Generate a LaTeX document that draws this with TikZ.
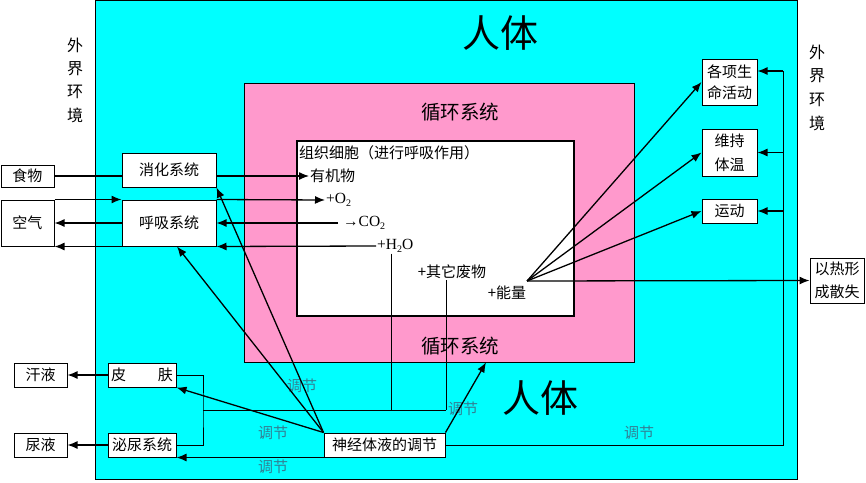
\documentclass[tikz,border=0pt]{standalone}
\usepackage{fontspec}
\setmainfont{Liberation Serif}
\newfontfamily\cjk{Noto Sans CJK SC}
\usetikzlibrary{arrows.meta,calc}
\definecolor{cyanbg}{RGB}{0,255,255}
\definecolor{pinkbg}{RGB}{255,153,204}
\definecolor{tiaojie}{RGB}{50,128,148}
\newcommand{\mysub}[1]{\raisebox{-0.35ex}{\fontsize{10}{10}\selectfont #1}}
\begin{document}
\begin{tikzpicture}[x=1pt,y=-1pt,
  box/.style={draw=black,line width=1pt,fill=white,inner sep=0pt,align=center,font=\cjk\fontsize{15}{18}\selectfont},
  lbl/.style={inner sep=1pt,font=\cjk\fontsize{15}{18}\selectfont},
  ltx/.style={inner sep=1pt,font=\fontsize{15.5}{18}\selectfont},
  tj/.style={inner sep=0pt,text=tiaojie,font=\cjk\fontsize{15}{18}\selectfont},
  conn/.style={line width=1.3pt,draw=black},
  thin/.style={line width=1pt,draw=black},
  arr/.style={conn,-{Latex[length=10pt,width=8pt]}},
]
\useasboundingbox (0,0) rectangle (866,482);
\fill[white] (0,0) rectangle (866,482);

% regions
\node[draw=black,line width=1pt,fill=cyanbg,minimum width=702pt,minimum height=479pt,inner sep=0pt] (body) at (446,240) {};
\node[draw=black,line width=0.8pt,fill=pinkbg,minimum width=390pt,minimum height=279pt,inner sep=0pt] (circ) at (439,222.5) {};
\node[draw=black,line width=1.5pt,fill=white,minimum width=277pt,minimum height=175pt,inner sep=0pt] (cell) at (435.5,228.5) {};

% titles
\node[inner sep=0pt,font=\cjk\fontsize{38}{40}\selectfont] (rt1) at (500,33) {人体};
\node[inner sep=0pt,font=\cjk\fontsize{38}{40}\selectfont] (rt2) at (540,398) {人体};
\node[inner sep=0pt,font=\cjk\fontsize{19.5}{20}\selectfont] (xh1) at (460,112) {循环系统};
\node[inner sep=0pt,font=\cjk\fontsize{19.5}{20}\selectfont] (xh2) at (460,346) {循环系统};
\node[inner sep=0pt,align=center,font=\cjk\fontsize{16}{23.3}\selectfont] (wj1) at (75,80) {外\\界\\环\\境};
\node[inner sep=0pt,align=center,font=\cjk\fontsize{16}{23.7}\selectfont] (wj2) at (817,87.5) {外\\界\\环\\境};

% boxes
\node[box,minimum width=53pt,minimum height=22pt] (food) at (27.5,176) {食物};
\node[box,minimum width=53pt,minimum height=46pt] (air) at (27.5,223) {空气};
\node[box,minimum width=94pt,minimum height=34pt] (dig) at (169,170) {消化系统};
\node[box,minimum width=94pt,minimum height=46pt] (resp) at (169,223) {呼吸系统};
\node[box,minimum width=53pt,minimum height=24pt] (sweat) at (40.5,375) {汗液};
\node[box,minimum width=53pt,minimum height=24pt] (urine) at (40.5,445) {尿液};
\node[box,minimum width=68pt,minimum height=24pt] (skin) at (142,375) {\makebox[62pt]{皮\hfill 肤}};
\node[box,minimum width=68pt,minimum height=24pt] (uri) at (142,445) {泌尿系统};
\node[box,minimum width=121pt,minimum height=24pt] (neuro) at (384.5,445) {神经体液的调节};
\node[box,minimum width=55pt,minimum height=46pt,font=\cjk\fontsize{15}{21}\selectfont] (act) at (729.5,82) {各项生\\命活动};
\node[box,minimum width=55pt,minimum height=47pt,font=\cjk\fontsize{15}{24}\selectfont] (temp) at (729.5,152.5) {维持\\体温};
\node[box,minimum width=55pt,minimum height=24pt] (move) at (729.5,211) {运动};
\node[box,minimum width=54pt,minimum height=45pt,font=\cjk\fontsize{15}{23}\selectfont] (heat) at (837,280.5) {以热形\\成散失};

% texts in the cell
\node[lbl,anchor=west] (t0) at (298,153) {组织细胞（进行呼吸作用）};
\node[lbl,anchor=west] (t1) at (309,176) {有机物};
\node[ltx,anchor=west] (t2) at (325,200) {+O\mysub{2}};
\node[ltx,anchor=west] (t3) at (342,223) {→CO\mysub{2}};
\node[ltx,anchor=west] (t4) at (376,246) {+H\mysub{2}O};
\node[lbl] (t5) at (452,272) {+其它废物};
\node[lbl] (t6) at (507,293) {+能量};

% regulation labels
\node[tj] (l1) at (302,386) {调节};
\node[tj] (l2) at (273,433) {调节};
\node[tj] (l3) at (273,467) {调节};
\node[tj] (l4) at (463,409) {调节};
\node[tj] (l5) at (639,433) {调节};

% coordinates
\coordinate (jx) at (203,410);
\coordinate (j1) at (391,410);
\coordinate (j2) at (446,410);
\coordinate (rt) at (783,71);
\coordinate (en) at (527,281);

% exchange lines
\draw[conn] (food.east) -- (dig.west |- food.east);
\draw[arr] (dig.east |- food.east) -- (t1.west);
\draw[arr] (air.north east) -- (resp.north west);
\draw[arr] (resp.north east) -- (t2.west);
\draw[arr] ([xshift=-4pt]t3.west) -- (resp.east |- t3.west);
\draw[arr] (resp.west) -- (air.east);
\draw[arr] (t4.west) -- (resp.south east);
\draw[arr] (resp.south west) -- (air.south east);
\draw[arr] (skin.west) -- (sweat.east);
\draw[arr] (uri.west) -- (urine.east);

% waste lines
\draw[thin] (skin.east) -| (jx) |- (uri.east);
\draw[thin] (jx) -- (j2);
\draw[thin] (j1 |- t4.south) -- (j1);
\draw[thin] (j2 |- t5.south) -- (j2);

% regulation arrows
\draw[arr] (neuro.north west) -- (skin.south east);
\draw[arr] (neuro.north west) -- ([xshift=8pt]resp.south);
\draw[arr] (neuro.north west) -- (dig.south east);
\draw[arr] (neuro.south west) -- (uri.south east);
\draw[arr] (neuro.north east) -- ([xshift=47pt]circ.south);
\draw[thin] (neuro.east) -| (rt);
\draw[arr] (rt) -- (act.east |- rt);
\draw[arr] (temp.east -| rt) -- (temp.east);
\draw[arr] (move.east -| rt) -- (move.east);

% energy arrows
\draw[arr] (en) -- (act.west);
\draw[arr] (en) -- (temp.west);
\draw[arr] (en) -- (move.west);
\draw[arr] (en) -- (heat.west);
\end{tikzpicture}
\end{document}
